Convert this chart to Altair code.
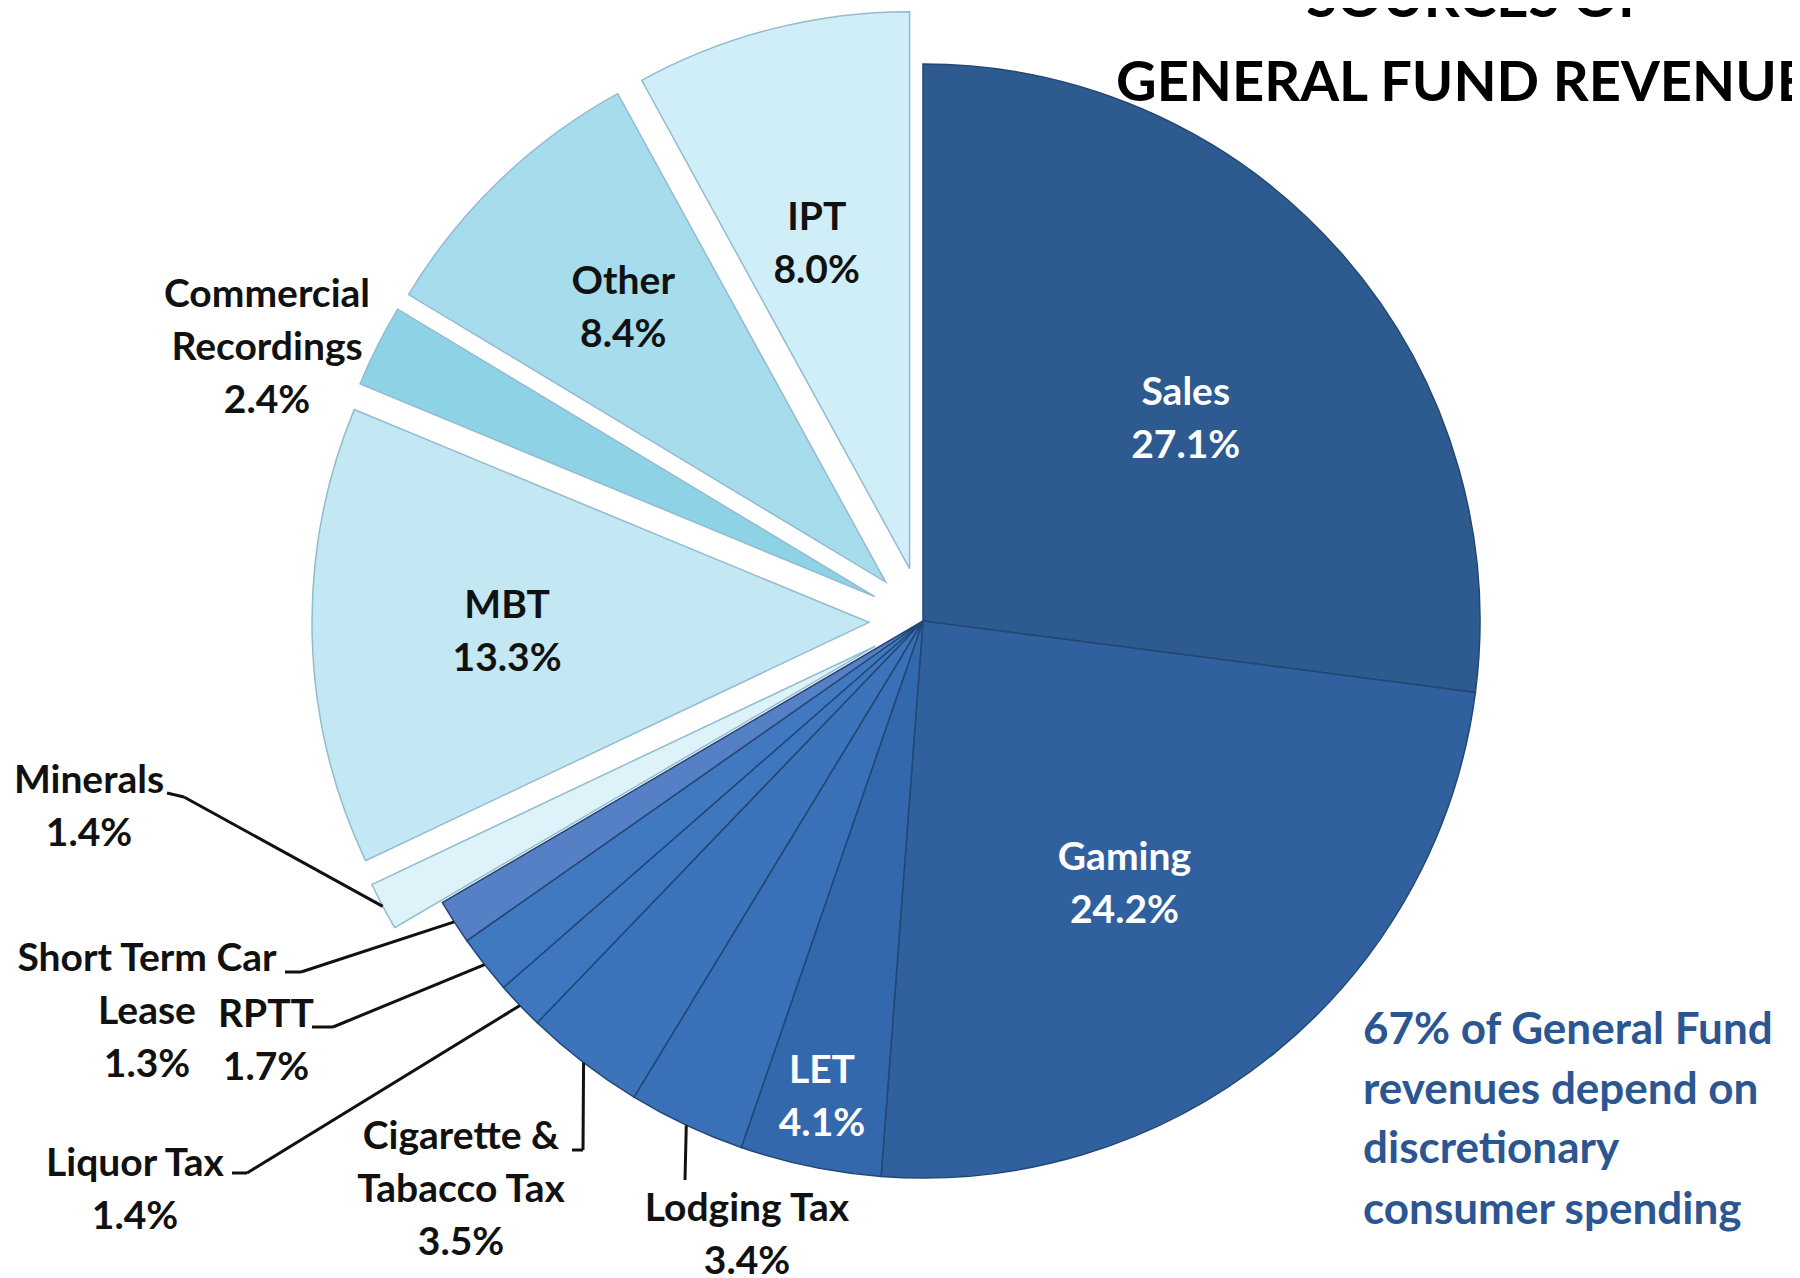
import math
import altair as alt
import pandas as pd

# ---------------- data ----------------
categories = ["Sales", "Gaming", "LET", "Lodging Tax", "Cigarette & Tabacco Tax",
              "Liquor Tax", "RPTT", "Short Term Car Lease", "Minerals", "MBT",
              "Commercial Recordings", "Other", "IPT"]
values = [27.1, 24.2, 4.1, 3.4, 3.5, 1.4, 1.7, 1.3, 1.4, 13.3, 2.4, 8.4, 8.0]
label_text = ["Sales", "Gaming", "LET", "Lodging Tax", "Cigarette &\nTabacco Tax",
              "Liquor Tax", "RPTT", "Short Term Car\nLease", "Minerals", "MBT",
              "Commercial\nRecordings", "Other", "IPT"]
exploded = [0, 0, 0, 0, 0, 0, 0, 0, 1, 1, 1, 1, 1]

title_lines = ["SOURCES OF", "GENERAL FUND REVENUE"]
note_lines = ["67% of General Fund", "revenues depend on", "discretionary", "consumer spending"]

# ---------------- style / layout ----------------
fill_colors = ["#2D5A8F", "#30619E", "#3468AD", "#3A70B7", "#3C74BB", "#3F77BE",
               "#4179C1", "#5680C6", "#DDF2F9", "#C3E8F4", "#8ED2E6", "#A6DCEC", "#CFEEF8"]
stroke_colors = ["#234775"] * 8 + ["#93BBD0"] * 5
text_colors = ["#FFFFFF"] * 3 + ["#111111"] * 10

OFF = 8                      # page margin
W, H = 1784, 1270
CX, CY = 923 - OFF, 621 - OFF
R = 557
EXPLODE = 54
FONT = "Lato"
LH = 53                      # label line height

# inside labels: (radius fraction, angle nudge in degrees)
inside_pos = {"Sales": (0.594, 3.9), "Gaming": (0.596, 1.8), "LET": (0.874, 0.3),
              "MBT": (0.65, -0.2), "Other": (0.68, 0.0), "IPT": (0.606, -1.6)}
# outside labels: block centre (page px), leader start and knee (page px)
outside = {
    "Minerals": (89, 807, 167, 793, 184, 797),
    "Short Term Car Lease": (147, 1012, 285, 972, 301, 972),
    "RPTT": (266, 1041, 312, 1027, 333, 1027),
    "Liquor Tax": (135, 1190, 232, 1173, 247, 1173),
    "Cigarette & Tabacco Tax": (461, 1190, 572, 1150, 583, 1150),
    "Lodging Tax": (747, 1235, 685, 1180, 685, 1180),
    "Commercial Recordings": (267, 348, None, None, None, None),
}

rows = []
for i, c in enumerate(categories):
    o = outside.get(c, (None,) * 6)
    sh = lambda v: (v - OFF) if v is not None else None
    ip = inside_pos.get(c, (0.0, 0.0))
    lab = f"{label_text[i]}\n{values[i]:.1f}%"
    rows.append({
        "category": c, "value": values[i], "order": i, "explode": exploded[i],
        "fill": fill_colors[i], "stroke": stroke_colors[i], "tcolor": text_colors[i],
        "label": lab, "nl": len(lab.split("\n")),
        "frac": ip[0], "dth": ip[1],
        "ox": sh(o[0]), "oy": sh(o[1]),
        "k0x": sh(o[2]), "k0y": sh(o[3]), "k1x": sh(o[4]), "k1y": sh(o[5]),
    })
df = pd.DataFrame(rows)

base = (
    alt.Chart(df)
    .transform_joinaggregate(total="sum(value)")
    .transform_window(cum="sum(value)", sort=[alt.SortField("order")], frame=[None, 0])
    .transform_calculate(a1="datum.cum / datum.total * 2 * PI")
    .transform_calculate(a0="(datum.cum - datum.value) / datum.total * 2 * PI")
    .transform_calculate(mid="(datum.a0 + datum.a1) / 2")
    .transform_calculate(px=f"{CX} + datum.explode * {EXPLODE} * sin(datum.mid)")
    .transform_calculate(py=f"{CY} - datum.explode * {EXPLODE} * cos(datum.mid)")
)

arcs = base.mark_arc(radius=R, strokeWidth=1.5).encode(
    theta=alt.Theta("a0:Q", scale=None),
    theta2=alt.Theta2("a1:Q"),
    x=alt.X("px:Q", scale=None, axis=None),
    y=alt.Y("py:Q", scale=None, axis=None),
    fill=alt.Fill("fill:N", scale=None),
    stroke=alt.Stroke("stroke:N", scale=None),
)

text_style = dict(font=FONT, fontWeight="bold", fontSize=39, lineBreak="\n",
                  lineHeight=LH, align="center", baseline="middle")

inside_text = (
    base.transform_filter("datum.frac > 0")
    .transform_calculate(la="datum.mid + datum.dth * PI / 180")
    .transform_calculate(lx=f"datum.px + datum.frac * {R} * sin(datum.la)")
    .transform_calculate(ly=f"datum.py - datum.frac * {R} * cos(datum.la) - (datum.nl - 1) * {LH} / 2")
    .mark_text(**text_style)
    .encode(
        x=alt.X("lx:Q", scale=None, axis=None),
        y=alt.Y("ly:Q", scale=None, axis=None),
        text="label:N",
        color=alt.Color("tcolor:N", scale=None),
    )
)

outside_text = (
    base.transform_filter("datum.ox > 0")
    .transform_calculate(oy1=f"datum.oy - (datum.nl - 1) * {LH} / 2")
    .mark_text(**text_style)
    .encode(
        x=alt.X("ox:Q", scale=None, axis=None),
        y=alt.Y("oy1:Q", scale=None, axis=None),
        text="label:N",
        color=alt.Color("tcolor:N", scale=None),
    )
)

leader_base = (
    base.transform_filter("datum.k1x > 0")
    .transform_calculate(ex=f"datum.px + {R} * sin(datum.mid)")
    .transform_calculate(ey=f"datum.py - {R} * cos(datum.mid)")
)
leader1 = leader_base.mark_rule(color="#111111", strokeWidth=3).encode(
    x=alt.X("k0x:Q", scale=None, axis=None), y=alt.Y("k0y:Q", scale=None, axis=None),
    x2="k1x:Q", y2="k1y:Q",
)
leader2 = leader_base.mark_rule(color="#111111", strokeWidth=3).encode(
    x=alt.X("k1x:Q", scale=None, axis=None), y=alt.Y("k1y:Q", scale=None, axis=None),
    x2="ex:Q", y2="ey:Q",
)

title_style = dict(font=FONT, fontWeight="bold", fontSize=56, baseline="alphabetic", color="#000000")
title1 = alt.Chart(pd.DataFrame({"t": [title_lines[0]], "x": [1478 - OFF], "y": [17 - OFF]})).mark_text(
    align="center", **title_style
).encode(x=alt.X("x:Q", scale=None, axis=None), y=alt.Y("y:Q", scale=None, axis=None), text="t:N")
title2 = alt.Chart(pd.DataFrame({"t": [title_lines[1]], "x": [1116 - OFF], "y": [101 - OFF]})).mark_text(
    align="left", **title_style
).encode(x=alt.X("x:Q", scale=None, axis=None), y=alt.Y("y:Q", scale=None, axis=None), text="t:N")

note_df = pd.DataFrame({"t": note_lines, "x": [1363 - OFF] * 4,
                        "y": [1031 - OFF, 1091 - OFF, 1150 - OFF, 1211 - OFF]})
note = alt.Chart(note_df).mark_text(
    font=FONT, fontWeight="bold", fontSize=44, align="left", baseline="middle", color="#2B5692"
).encode(
    x=alt.X("x:Q", scale=None, axis=None), y=alt.Y("y:Q", scale=None, axis=None), text="t:N"
)

chart = (
    alt.layer(arcs, leader1, leader2, inside_text, outside_text, title1, title2, note)
    .properties(width=W, height=H, padding=0, autosize="none", background="#FFFFFF")
    .configure_view(stroke=None)
)

chart.save("out.html", embed_options={"renderer": "svg", "actions": False})
